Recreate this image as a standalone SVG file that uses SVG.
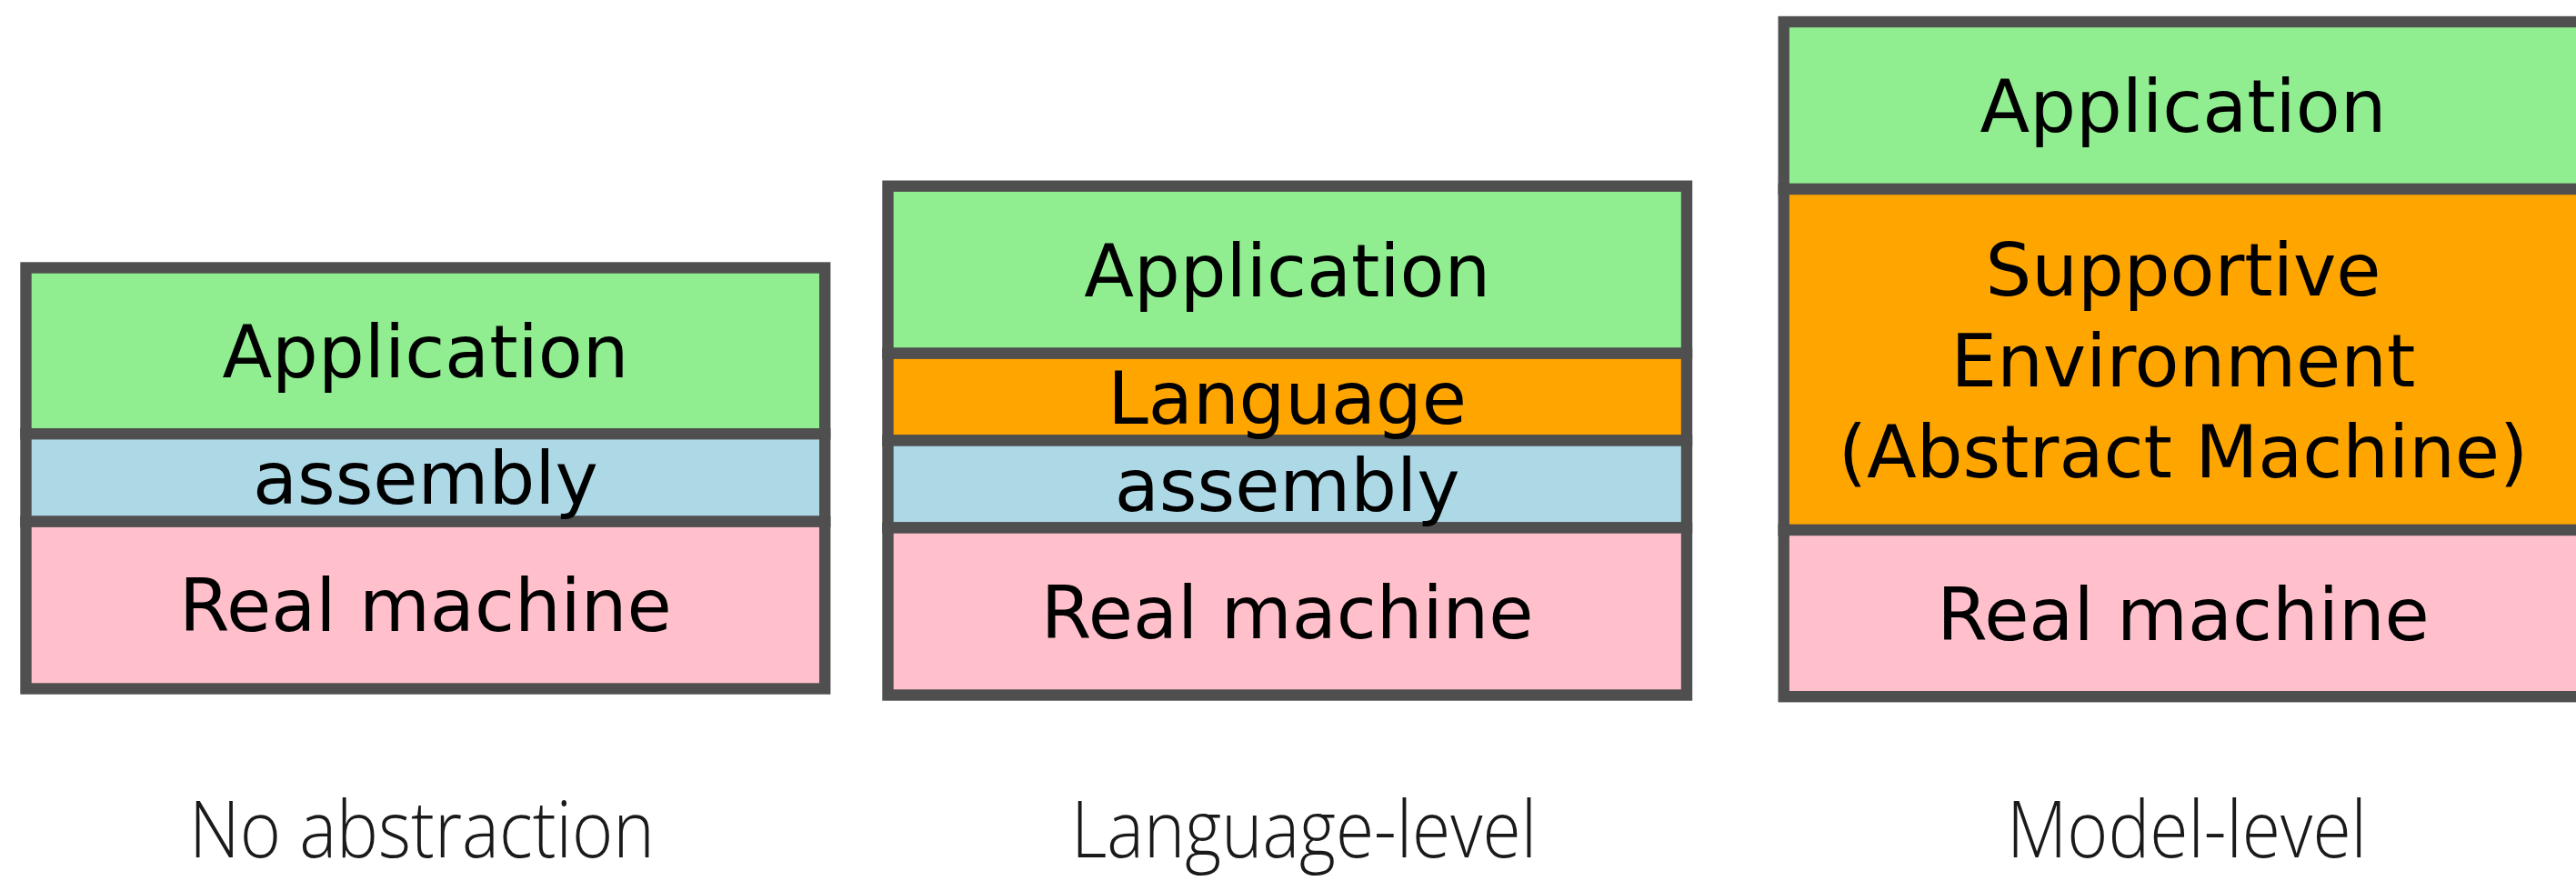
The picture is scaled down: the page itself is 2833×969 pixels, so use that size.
<svg xmlns="http://www.w3.org/2000/svg" width="2833" height="969" viewBox="0 0 2833 969">
  <style>
    .layer { stroke: #4f4f4f; stroke-width: 12.4; }
    .app { fill: #90ee90; }
    .asm { fill: #add8e6; }
    .lang { fill: #ffa500; }
    .real { fill: #ffc0cb; }
    .lbl { font-family: "DejaVu Sans", "Liberation Sans", sans-serif; font-size: 80px; fill: #000; text-anchor: middle; }
    .cap { font-family: "Open Sans", "Noto Sans", "Liberation Sans", sans-serif; font-weight: 300; font-size: 86px; fill: #1a1a1a; text-anchor: middle; }
  </style>
  <rect width="2833" height="969" fill="#ffffff"/>

  <!-- Stack 1: no abstraction -->
  <g id="stack-no-abstraction">
    <rect class="layer app" x="28.5" y="294.5" width="878.7" height="182.7"/>
    <rect class="layer asm" x="28.5" y="477.2" width="878.7" height="96.5"/>
    <rect class="layer real" x="28.5" y="573.7" width="878.7" height="183.8"/>
    <text class="lbl" x="467.9" y="415">Application</text>
    <text class="lbl" x="467.9" y="554">assembly</text>
    <text class="lbl" x="467.9" y="694">Real machine</text>
  </g>

  <!-- Stack 2: language-level -->
  <g id="stack-language-level">
    <rect class="layer app" x="976.5" y="204.7" width="878.5" height="184"/>
    <rect class="layer lang" x="976.5" y="388.7" width="878.5" height="95.8"/>
    <rect class="layer asm" x="976.5" y="484.5" width="878.5" height="96"/>
    <rect class="layer real" x="976.5" y="580.5" width="878.5" height="184"/>
    <text class="lbl" x="1415.7" y="325.7">Application</text>
    <text class="lbl" x="1415.7" y="465.6">Language</text>
    <text class="lbl" x="1415.7" y="561.5">assembly</text>
    <text class="lbl" x="1415.7" y="701.5">Real machine</text>
  </g>

  <!-- Stack 3: model-level (runs past the right edge) -->
  <g id="stack-model-level">
    <rect class="layer app" x="1961.7" y="24" width="878.6" height="184"/>
    <rect class="layer lang" x="1961.7" y="208" width="878.6" height="375"/>
    <rect class="layer real" x="1961.7" y="583" width="878.6" height="183.2"/>
    <text class="lbl" x="2401" y="145">Application</text>
    <text class="lbl" x="2401" y="324.5">Supportive</text>
    <text class="lbl" x="2401" y="424.5">Environment</text>
    <text class="lbl" x="2401" y="524.5">(Abstract Machine)</text>
    <text class="lbl" x="2401" y="703.6">Real machine</text>
  </g>

  <!-- Captions -->
  <g id="captions">
    <text class="cap" x="464" y="943" textLength="512" lengthAdjust="spacingAndGlyphs">No abstraction</text>
    <text class="cap" x="1434" y="943" textLength="512" lengthAdjust="spacingAndGlyphs">Language-level</text>
    <text class="cap" x="2405" y="943" textLength="396" lengthAdjust="spacingAndGlyphs">Model-level</text>
  </g>
</svg>
